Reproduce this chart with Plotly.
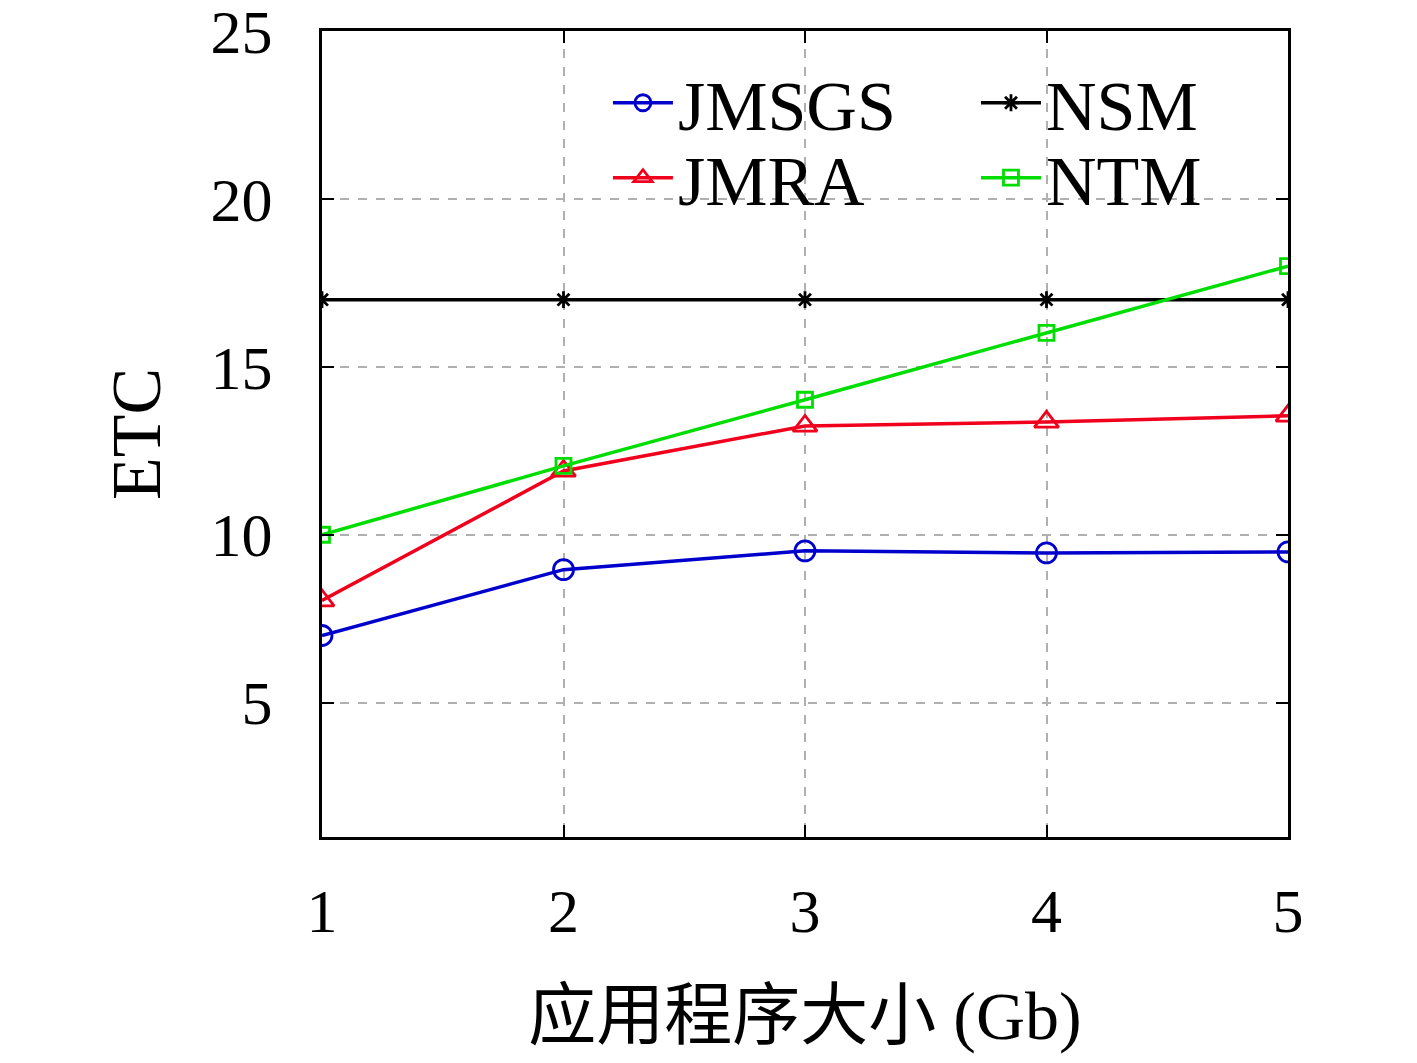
import plotly.graph_objects as go

x_vals = [1, 2, 3, 4, 5]
jmsgs = [7.0, 8.96, 9.52, 9.46, 9.49]
jmra = [8.04, 11.9, 13.24, 13.36, 13.54]
nsm = [17.0, 17.0, 17.0, 17.0, 17.0]
ntm = [10.0, 12.05, 14.02, 16.01, 18.0]

y_ticks = [5, 10, 15, 20, 25]
x_ticks = [1, 2, 3, 4, 5]

FONT = "Liberation Serif, Noto Sans CJK SC, serif"

fig = go.Figure()
fig.add_trace(go.Scatter(x=x_vals, y=jmsgs, name="JMSGS", mode="lines+markers",
                         line=dict(color="#0000CC", width=3.5),
                         marker=dict(symbol="circle-open", size=20, color="#0000CC", line=dict(width=2.8)),
                         legend="legend", showlegend=True))
fig.add_trace(go.Scatter(x=x_vals, y=jmra, name="JMRA", mode="lines+markers",
                         line=dict(color="#F0001C", width=3.5),
                         marker=dict(symbol="triangle-up-open", size=21, color="#F0001C", line=dict(width=2.8)),
                         legend="legend2", showlegend=True))
fig.add_trace(go.Scatter(x=x_vals, y=nsm, name="NSM", mode="lines+markers",
                         line=dict(color="#000000", width=3.5),
                         marker=dict(symbol="asterisk", size=14, color="#000000", line=dict(width=2.8, color="#000000")),
                         legend="legend3", showlegend=True))
fig.add_trace(go.Scatter(x=x_vals, y=ntm, name="NTM", mode="lines+markers",
                         line=dict(color="#00DD00", width=3.5),
                         marker=dict(symbol="square-open", size=15, color="#00DD00", line=dict(width=2.8)),
                         legend="legend4", showlegend=True))

axis_common = dict(showline=True, linecolor="black", linewidth=3, mirror="ticks",
                   ticks="inside", ticklen=12, tickwidth=2, tickcolor="black",
                   showgrid=True, gridcolor="#b0b0b0", griddash="dash", gridwidth=1.5,
                   zeroline=False, automargin=False, ticklabeloverflow="allow",
                   tickfont=dict(family=FONT, size=62, color="black"))

fig.update_xaxes(range=[1, 5], tickvals=x_ticks, ticktext=[str(v) for v in x_ticks],
                 title=dict(text="应用程序大小 (Gb)", font=dict(family=FONT, size=68, color="black"), standoff=47),
                 ticklabelstandoff=18, **axis_common)
fig.update_yaxes(range=[1, 25], tickvals=y_ticks, ticktext=[str(v) for v in y_ticks],
                 title=dict(text="ETC", font=dict(family=FONT, size=70, color="black"), standoff=28),
                 ticklabelstandoff=34, **axis_common)

leg_common = dict(font=dict(family=FONT, size=70, color="black"), bgcolor="rgba(255,255,255,0)",
                  borderwidth=0, yanchor="middle", xanchor="left", itemwidth=60, visible=True)
row1 = 0.911
row2 = 0.818
col1 = 0.296
col2 = 0.677
fig.update_layout(
    width=1417, height=1063,
    showlegend=True,
    margin=dict(l=314, r=137, t=23, b=234, autoexpand=False),
    paper_bgcolor="white", plot_bgcolor="white",
    legend=dict(x=col1, y=row1, **leg_common),
    legend2=dict(x=col1, y=row2, **leg_common),
    legend3=dict(x=col2, y=row1, **leg_common),
    legend4=dict(x=col2, y=row2, **leg_common),
)

fig.write_html("out.html")
